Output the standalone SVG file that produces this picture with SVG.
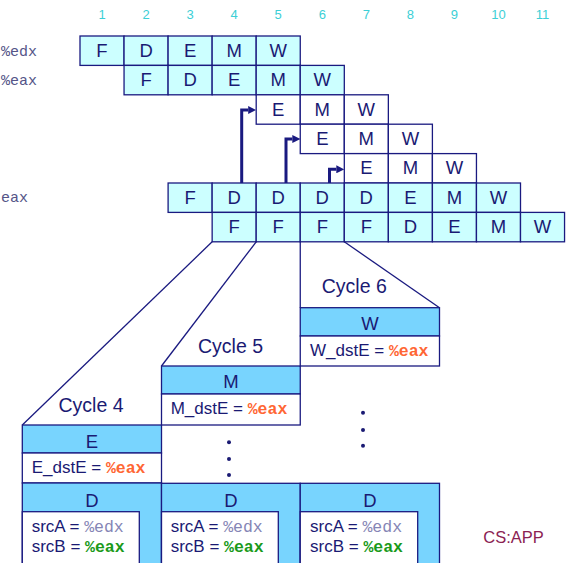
<svg xmlns="http://www.w3.org/2000/svg" width="570" height="563" viewBox="0 0 570 563">
<style>
.cell{stroke:#1a1a80;stroke-width:1.3}
.cy{fill:#ccffff}
.wh{fill:#ffffff}
.hd{fill:#78d4fe;stroke:#1a1a80;stroke-width:1.3}
.bx{fill:#ffffff;stroke:#1a1a80;stroke-width:1.3}
.t{font-family:"Liberation Sans",Arial,sans-serif;font-size:18.5px;fill:#1a1a73;text-anchor:middle}
.num{font-family:"Liberation Sans",Arial,sans-serif;font-size:13px;fill:#3ccfd6;text-anchor:middle}
.lbl{font-family:"Liberation Mono","Courier New",monospace;font-size:15px;fill:#555588}
.cyc{font-family:"Liberation Sans",Arial,sans-serif;font-size:19.5px;fill:#1a1a73;text-anchor:middle}
.val{font-family:"Liberation Sans",Arial,sans-serif;font-size:17px;fill:#1a1a73}
.or{font-family:"Liberation Mono","Courier New",monospace;font-weight:bold;font-size:16.5px;fill:#ff6633}
.gr{font-family:"Liberation Mono","Courier New",monospace;font-weight:bold;font-size:16.5px;fill:#1a9a1a}
.gy{font-family:"Liberation Mono","Courier New",monospace;font-size:16.5px;fill:#8585b5}
.line{stroke:#1a1a80;stroke-width:1.3;fill:none}
.arr{stroke:#1a1a80;stroke-width:3;fill:none;stroke-linejoin:miter}
.dot{fill:#1a1a73}
.brand{font-family:"Liberation Sans",Arial,sans-serif;font-size:16.5px;fill:#8b2252}
</style>
<defs>
<marker id="ah" viewBox="0 0 8 8" refX="0" refY="4" markerWidth="8" markerHeight="8" markerUnits="userSpaceOnUse" orient="auto">
<path d="M0,0 L8,4 L0,8 z" fill="#1a1a80"/>
</marker>
</defs>

<g id="cycle-numbers">
<text class="num" x="102.0" y="19.3">1</text>
<text class="num" x="146.1" y="19.3">2</text>
<text class="num" x="190.1" y="19.3">3</text>
<text class="num" x="234.2" y="19.3">4</text>
<text class="num" x="278.2" y="19.3">5</text>
<text class="num" x="322.3" y="19.3">6</text>
<text class="num" x="366.3" y="19.3">7</text>
<text class="num" x="410.4" y="19.3">8</text>
<text class="num" x="454.4" y="19.3">9</text>
<text class="num" x="498.5" y="19.3">10</text>
<text class="num" x="542.5" y="19.3">11</text>
</g>

<g id="labels">
<text class="lbl" x="1" y="56">%edx</text>
<text class="lbl" x="1" y="85">%eax</text>
<text class="lbl" x="1" y="201.7">eax</text>
</g>

<g id="row1">
<rect class="cell cy" x="80" y="36" width="44.05" height="29.4"/>
<rect class="cell cy" x="124.05" y="36" width="44.05" height="29.4"/>
<rect class="cell cy" x="168.1" y="36" width="44.05" height="29.4"/>
<rect class="cell cy" x="212.15" y="36" width="44.05" height="29.4"/>
<rect class="cell cy" x="256.2" y="36" width="44.05" height="29.4"/>
<text class="t" x="102.0" y="56.7">F</text>
<text class="t" x="146.1" y="56.7">D</text>
<text class="t" x="190.1" y="56.7">E</text>
<text class="t" x="234.2" y="56.7">M</text>
<text class="t" x="278.2" y="56.7">W</text>
</g>

<g id="row2">
<rect class="cell cy" x="124.05" y="65.4" width="44.05" height="29.4"/>
<rect class="cell cy" x="168.1" y="65.4" width="44.05" height="29.4"/>
<rect class="cell cy" x="212.15" y="65.4" width="44.05" height="29.4"/>
<rect class="cell cy" x="256.2" y="65.4" width="44.05" height="29.4"/>
<rect class="cell cy" x="300.25" y="65.4" width="44.05" height="29.4"/>
<text class="t" x="146.1" y="86.1">F</text>
<text class="t" x="190.1" y="86.1">D</text>
<text class="t" x="234.2" y="86.1">E</text>
<text class="t" x="278.2" y="86.1">M</text>
<text class="t" x="322.3" y="86.1">W</text>
</g>

<g id="bubble1">
<rect class="cell wh" x="256.2" y="94.8" width="44.05" height="29.4"/>
<rect class="cell wh" x="300.25" y="94.8" width="44.05" height="29.4"/>
<rect class="cell wh" x="344.3" y="94.8" width="44.05" height="29.4"/>
<text class="t" x="278.2" y="115.5">E</text>
<text class="t" x="322.3" y="115.5">M</text>
<text class="t" x="366.3" y="115.5">W</text>
</g>

<g id="bubble2">
<rect class="cell wh" x="300.25" y="124.2" width="44.05" height="29.4"/>
<rect class="cell wh" x="344.3" y="124.2" width="44.05" height="29.4"/>
<rect class="cell wh" x="388.35" y="124.2" width="44.05" height="29.4"/>
<text class="t" x="322.3" y="144.9">E</text>
<text class="t" x="366.3" y="144.9">M</text>
<text class="t" x="410.4" y="144.9">W</text>
</g>

<g id="bubble3">
<rect class="cell wh" x="344.3" y="153.6" width="44.05" height="29.4"/>
<rect class="cell wh" x="388.35" y="153.6" width="44.05" height="29.4"/>
<rect class="cell wh" x="432.4" y="153.6" width="44.05" height="29.4"/>
<text class="t" x="366.3" y="174.3">E</text>
<text class="t" x="410.4" y="174.3">M</text>
<text class="t" x="454.4" y="174.3">W</text>
</g>

<g id="row-addl">
<rect class="cell cy" x="168.1" y="183" width="44.05" height="29.4"/>
<rect class="cell cy" x="212.15" y="183" width="44.05" height="29.4"/>
<rect class="cell cy" x="256.2" y="183" width="44.05" height="29.4"/>
<rect class="cell cy" x="300.25" y="183" width="44.05" height="29.4"/>
<rect class="cell cy" x="344.3" y="183" width="44.05" height="29.4"/>
<rect class="cell cy" x="388.35" y="183" width="44.05" height="29.4"/>
<rect class="cell cy" x="432.4" y="183" width="44.05" height="29.4"/>
<rect class="cell cy" x="476.45" y="183" width="44.05" height="29.4"/>
<text class="t" x="190.1" y="203.7">F</text>
<text class="t" x="234.2" y="203.7">D</text>
<text class="t" x="278.2" y="203.7">D</text>
<text class="t" x="322.3" y="203.7">D</text>
<text class="t" x="366.3" y="203.7">D</text>
<text class="t" x="410.4" y="203.7">E</text>
<text class="t" x="454.4" y="203.7">M</text>
<text class="t" x="498.5" y="203.7">W</text>
</g>

<g id="row-halt">
<rect class="cell cy" x="212.15" y="212.4" width="44.05" height="29.4"/>
<rect class="cell cy" x="256.2" y="212.4" width="44.05" height="29.4"/>
<rect class="cell cy" x="300.25" y="212.4" width="44.05" height="29.4"/>
<rect class="cell cy" x="344.3" y="212.4" width="44.05" height="29.4"/>
<rect class="cell cy" x="388.35" y="212.4" width="44.05" height="29.4"/>
<rect class="cell cy" x="432.4" y="212.4" width="44.05" height="29.4"/>
<rect class="cell cy" x="476.45" y="212.4" width="44.05" height="29.4"/>
<rect class="cell cy" x="520.5" y="212.4" width="44.05" height="29.4"/>
<text class="t" x="234.2" y="233.1">F</text>
<text class="t" x="278.2" y="233.1">F</text>
<text class="t" x="322.3" y="233.1">F</text>
<text class="t" x="366.3" y="233.1">F</text>
<text class="t" x="410.4" y="233.1">D</text>
<text class="t" x="454.4" y="233.1">E</text>
<text class="t" x="498.5" y="233.1">M</text>
<text class="t" x="542.5" y="233.1">W</text>
</g>

<g id="connectors">
<path class="arr" d="M241.7 183 V110 H248.2" marker-end="url(#ah)"/>
<path class="arr" d="M286 183 V139 H292.3" marker-end="url(#ah)"/>
<path class="arr" d="M329.5 183 V169.3 H336.3" marker-end="url(#ah)"/>
<line class="line" x1="212.15" y1="241.8" x2="22.3" y2="425"/>
<line class="line" x1="256.2" y1="241.8" x2="161.5" y2="366"/>
<line class="line" x1="300.25" y1="241.8" x2="300.25" y2="307.7"/>
<line class="line" x1="344.3" y1="241.8" x2="439.5" y2="307.7"/>
</g>

<g id="cycle4">
<text class="cyc" x="91" y="411.7">Cycle 4</text>
<rect class="hd" x="22.3" y="425" width="139.2" height="28"/>
<text class="t" x="91.9" y="448.3">E</text>
<rect class="bx" x="22.3" y="453" width="139.2" height="30"/>
<text class="val" x="31.7" y="473.3">E_dstE = <tspan class="or">%eax</tspan></text>
<rect class="hd" x="22.3" y="483" width="139.2" height="100"/>
<text class="t" x="91.9" y="507.3">D</text>
<rect class="bx" x="22.3" y="511.7" width="117" height="70"/>
<text class="val" x="31.7" y="531.7">srcA = <tspan class="gy">%edx</tspan></text>
<text class="val" x="31.7" y="551.7">srcB = <tspan class="gr">%eax</tspan></text>
</g>

<g id="cycle5">
<text class="cyc" x="230.5" y="352.7">Cycle 5</text>
<rect class="hd" x="161.5" y="366" width="138.75" height="28"/>
<text class="t" x="230.9" y="388.3">M</text>
<rect class="bx" x="161.5" y="394" width="138.75" height="31"/>
<text class="val" x="170.7" y="414">M_dstE = <tspan class="or">%eax</tspan></text>
<circle class="dot" cx="229" cy="442.3" r="2"/>
<circle class="dot" cx="229" cy="459" r="2"/>
<circle class="dot" cx="229" cy="475" r="2"/>
<rect class="hd" x="161.5" y="483.3" width="138.75" height="100"/>
<text class="t" x="230.9" y="507.3">D</text>
<rect class="bx" x="161.5" y="511.7" width="116.8" height="70"/>
<text class="val" x="170.7" y="531.7">srcA = <tspan class="gy">%edx</tspan></text>
<text class="val" x="170.7" y="551.7">srcB = <tspan class="gr">%eax</tspan></text>
</g>

<g id="cycle6">
<text class="cyc" x="354.3" y="293.3">Cycle 6</text>
<rect class="hd" x="300.25" y="307.7" width="139.25" height="28.3"/>
<text class="t" x="369.9" y="330">W</text>
<rect class="bx" x="300.25" y="336" width="139.25" height="30"/>
<text class="val" x="310" y="356">W_dstE = <tspan class="or">%eax</tspan></text>
<circle class="dot" cx="363" cy="412.7" r="2"/>
<circle class="dot" cx="363" cy="430" r="2"/>
<circle class="dot" cx="363" cy="445.7" r="2"/>
<rect class="hd" x="300.25" y="483.3" width="139.25" height="100"/>
<text class="t" x="369.9" y="507.3">D</text>
<rect class="bx" x="300.25" y="511.7" width="117.45" height="70"/>
<text class="val" x="310" y="531.7">srcA = <tspan class="gy">%edx</tspan></text>
<text class="val" x="310" y="551.7">srcB = <tspan class="gr">%eax</tspan></text>
</g>

<text class="brand" x="483.3" y="543.3">CS:APP</text>
</svg>
